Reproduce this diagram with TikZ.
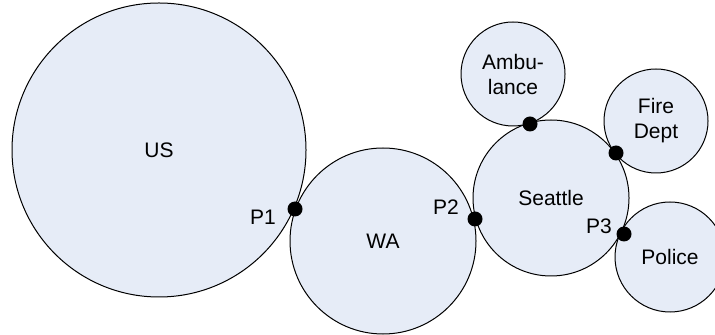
\documentclass[tikz,border=0pt]{standalone}
\usepackage{fontspec}
\setmainfont{Liberation Sans}
\definecolor{zonefill}{RGB}{230,236,247}

\begin{document}
\begin{tikzpicture}[
    x=0.5pt, y=-0.5pt,
    zone/.style={
        circle,
        draw=black,
        line width=0.5pt,
        fill=zonefill,
        inner sep=0pt,
        align=center,
        font=\fontsize{10.5}{12.5}\selectfont
    },
    joint/.style={
        circle,
        fill=black,
        inner sep=0pt,
        minimum size=7.5pt
    },
    tag/.style={
        inner sep=0pt,
        font=\fontsize{10.5}{12.5}\selectfont
    }
]

\useasboundingbox (0,0) rectangle (715,335);

% ---------------- ZONES ----------------

\node[zone, minimum size=147pt] (us) at (159,150) {US};
\node[zone, minimum size=93pt] (wa) at (383,241) {WA};
\node[zone, minimum size=78pt] (seattle) at (551,198) {Seattle};
\node[zone, minimum size=52pt] (ambulance) at (513,74) {Ambu-\\lance};
\node[zone, minimum size=52pt] (fire) at (656,121) {Fire\\Dept};
\node[zone, minimum size=55pt] (police) at (670,257) {Police};

% ---------------- PUNTS ----------------

\node[joint] (p1) at (295,209) {};
\node[joint] (p2) at (475,219) {};
\node[joint] (p3) at (624,234) {};
\node[joint] (pamb) at (530,124) {};
\node[joint] (pfire) at (616,153) {};

% ---------------- ETIQUETES ----------------

\node[tag] (p1label) at (263,217) {P1};
\node[tag] (p2label) at (446,207) {P2};
\node[tag] (p3label) at (599,226) {P3};

\end{tikzpicture}
\end{document}
